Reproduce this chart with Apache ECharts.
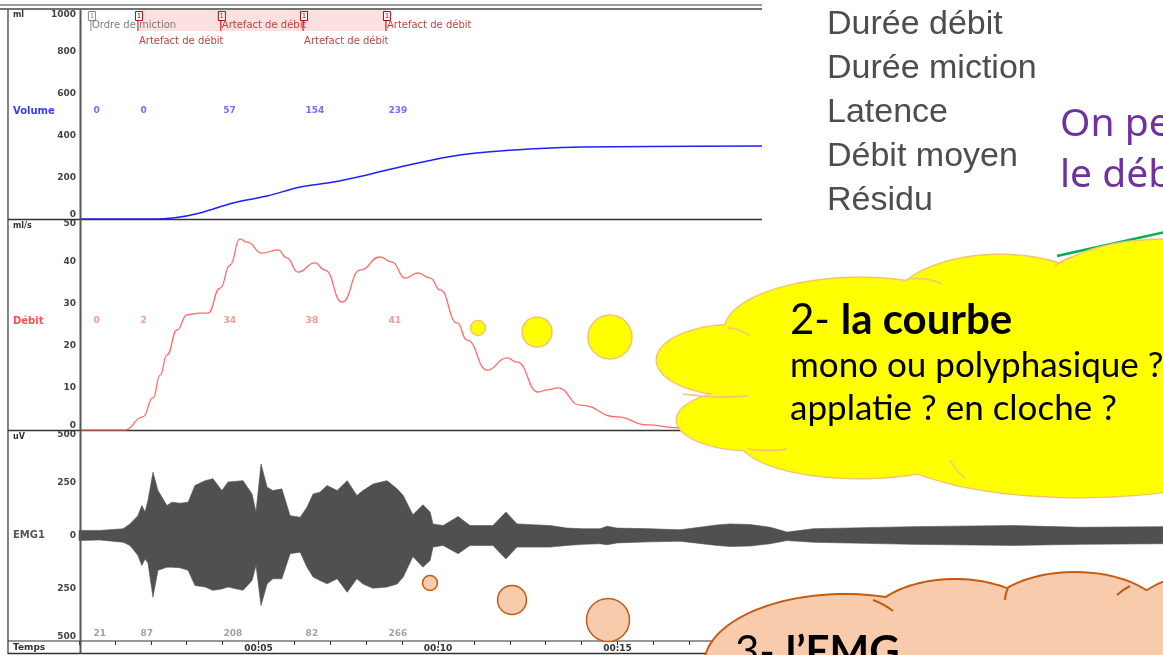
<!DOCTYPE html>
<html>
<head>
<meta charset="utf-8">
<script src="https://cdn.jsdelivr.net/npm/echarts@6/dist/echarts.min.js"></script>
<style>
html, body { margin: 0; padding: 0; background: #fff; }
#chart { width: 1163px; height: 655px; }
</style>
</head>
<body>
<div id="chart"></div>
<script>
// time in seconds
var volumeTime = [0.05, 1.98, 2.67, 3.37, 4.29, 5.24, 6.16, 7.08, 8.02, 8.94, 9.78, 10.61, 11.73, 12.84, 14.04, 15.91, 19.03];
var volumeValues = [0, 0, 6, 29, 77, 110, 153, 177, 211, 249, 280, 306, 325, 337, 344, 347, 349];

var debitTime = [0.05, 1.28, 1.78, 2.06, 2.26, 2.45, 2.73, 3.01, 3.37, 3.59, 3.93, 4.21, 4.48, 4.68, 5.10, 5.54, 5.79, 6.10, 6.57, 6.85, 7.33, 7.83, 8.38, 8.72, 9.08, 9.44, 9.78, 10.06, 10.53, 10.81, 11.37, 11.92, 12.20, 12.79, 13.04, 13.34, 13.96, 14.99, 15.82, 16.66, 17.86, 30.19];
var debitValues = [0, 0, 3.1, 7.6, 13, 17.8, 23.7, 27.3, 27.7, 27.7, 33.6, 39.1, 45.3, 44.5, 41.9, 42.7, 40.8, 37.4, 39.6, 37.9, 30.3, 37.9, 41, 39.8, 36, 37.2, 36, 33.2, 25.4, 21.3, 14.2, 17.1, 16.1, 9, 9.5, 10, 5.9, 3.1, 1.2, 0.5, 0, 0];

var emgTime = [0, 0.58, 1.23, 1.42, 1.64, 1.75, 1.84, 1.92, 2.06, 2.20, 2.45, 2.59, 2.81, 3.04, 3.23, 3.51, 3.73, 3.98, 4.15, 4.57, 4.82, 4.93, 5.07, 5.24, 5.40, 5.65, 5.88, 6.16, 6.35, 6.52, 6.71, 6.91, 7.19, 7.47, 7.74, 7.91, 8.19, 8.58, 8.86, 9.03, 9.30, 9.58, 9.78, 9.86, 10.14, 10.56, 10.89, 11.53, 11.89, 12.20, 12.65, 13.12, 13.59, 14.04, 14.51, 14.71, 14.99, 15.91, 16.74, 17.77, 18.13, 18.69, 19.25, 19.72, 20.45, 23.23, 26.02, 27.88, 30.19];
var emgUpper = [24, 24, 32, 55, 94, 142, 111, 165, 300, 213, 142, 158, 153, 158, 237, 260, 269, 213, 253, 260, 197, 111, 339, 229, 213, 221, 94, 86, 134, 197, 205, 237, 213, 260, 190, 213, 244, 260, 221, 190, 98, 146, 111, 55, 47, 90, 47, 47, 111, 55, 51, 47, 35, 32, 32, 44, 35, 32, 27, 50, 55, 52, 39, 16, 32, 42, 47, 39, 42];
var emgLower = [24, 21, 32, 47, 94, 142, 111, 130, 292, 165, 150, 150, 153, 165, 237, 244, 260, 253, 244, 260, 213, 142, 332, 229, 205, 205, 86, 79, 150, 197, 213, 229, 205, 269, 205, 230, 250, 244, 230, 197, 100, 150, 118, 55, 47, 86, 47, 47, 111, 55, 55, 55, 47, 42, 39, 44, 35, 30, 27, 47, 52, 50, 39, 24, 32, 42, 47, 42, 39];

// event markers and cursor readouts
var markerTime = [0.36, 1.67, 3.98, 6.27, 8.58];
var markerLabel = ['Ordre de miction', 'Artefact de débit', 'Artefact de débit', 'Artefact de débit', 'Artefact de débit'];
var volumeReadout = [0, 0, 57, 154, 239];
var debitReadout = [0, 2, 34, 38, 41];
var emgReadout = [21, 87, 208, 82, 266];

var sideList = ['Durée débit', 'Durée miction', 'Latence', 'Débit moyen', 'Résidu'];

var chart = echarts.init(document.getElementById('chart'));
var lf = 'DejaVu Sans';
var cf = 'Lato';

function pairs(xs, ys) {
	return xs.map(function(x, i){ return [x, ys[i]]; });
}

function yAxis(gridIndex, min, max, interval, fmt) {
	return {
		type: 'value', gridIndex: gridIndex, min: min, max: max, interval: interval,
		splitLine: {show: false}, axisLine: {show: false}, axisTick: {show: false},
		axisLabel: {
			fontFamily: lf, fontSize: 9, fontWeight: 'bold', color: '#444', margin: 3,
			formatter: fmt || function(v){ return String(v); },
			verticalAlignMaxLabel: 'top', verticalAlignMinLabel: 'bottom'
		}
	};
}

function readout(axis, yLevel, values, color) {
	return {
		type: 'scatter', xAxisIndex: axis, yAxisIndex: axis, silent: true,
		symbolSize: 1, itemStyle: {color: 'transparent'},
		data: markerTime.map(function(t, i){ return [t, yLevel, values[i]]; }),
		label: {
			show: true, position: 'right', distance: 1,
			formatter: function(p){ return p.value[2]; },
			fontFamily: lf, fontSize: 9, fontWeight: 'bold', color: color
		}
	};
}

// graphic helpers
var g = [];
function line(x1, y1, x2, y2, color, w, z) {
	g.push({type: 'line', z: z || 1, silent: true, shape: {x1: x1, y1: y1, x2: x2, y2: y2}, style: {stroke: color, lineWidth: w}});
}
function text(x, y, s, font, size, color, weight, z) {
	g.push({type: 'text', z: z || 5, silent: true, style: {
		x: x, y: y, text: s, fontFamily: font, fontSize: size, fill: color,
		fontWeight: weight || 'normal', verticalAlign: 'middle'
	}});
}
function cloud(lobes, fill, stroke, lw, arcs) {
	lobes.forEach(function(l){
		g.push({type: 'ellipse', z: 100, silent: true,
			shape: {cx: l[0], cy: l[1], rx: l[2] + lw, ry: l[3] + lw}, style: {fill: stroke}});
		g.push({type: 'ellipse', z: 101, silent: true,
			shape: {cx: l[0], cy: l[1], rx: l[2], ry: l[3]}, style: {fill: fill}});
	});
	arcs.forEach(function(a){
		g.push({type: 'bezierCurve', z: 102, silent: true,
			shape: {x1: a[0], y1: a[1], x2: a[2], y2: a[3], cpx1: a[4], cpy1: a[5]},
			style: {stroke: stroke, lineWidth: lw, fill: null}});
	});
}
function bubble(cx, cy, r, fill, stroke) {
	g.push({type: 'circle', z: 100, silent: true, shape: {cx: cx, cy: cy, r: r},
		style: {fill: fill, stroke: stroke, lineWidth: 1.5}});
}

// frame
line(0, 5, 762, 5, '#7a7a7a', 1.5);
line(0, 9, 762, 9, '#444', 1.5);
line(8, 10, 8, 654, '#333', 1.2, 10);
line(80.5, 10, 80.5, 654, '#555', 2, 10);
line(8, 219.5, 762, 219.5, '#333', 1.5);
line(8, 430.5, 1163, 430.5, '#333', 1.5);
line(8, 641, 1163, 641, '#333', 1.2);
line(8, 653.5, 1163, 653.5, '#333', 1.5);

// left column labels
text(13, 15, 'ml', lf, 8, '#333', 'bold');
text(13, 111, 'Volume', lf, 10, '#3a3aff', 'bold');
text(13, 226, 'ml/s', lf, 8, '#333', 'bold');
text(13, 321, 'Débit', lf, 10, '#ff5050', 'bold');
text(13, 437, 'uV', lf, 8, '#333', 'bold');
text(13, 535, 'EMG1', lf, 10, '#555', 'bold');
text(13, 648, 'Temps', lf, 9, '#333', 'bold');

// right side text
sideList.forEach(function(s, i){
	text(827, 25 + 44 * i, s, 'Liberation Sans', 34, '#4d4d4d');
});
text(1060, 125, 'On peut', 'Noto Sans', 39, '#7030a0');
text(1060, 176, 'le débit', 'Noto Sans', 39, '#7030a0');
line(1057, 256, 1165, 232, '#00b050', 2.5, 50);

// yellow thought cloud
bubble(478, 328, 7.5, '#ffff00', '#f5c470');
bubble(537, 332, 15, '#ffff00', '#f5c470');
bubble(610, 337, 22, '#ffff00', '#f5c470');
cloud([
	[860, 330, 135, 52], [1000, 310, 110, 55], [1160, 320, 140, 80],
	[735, 360, 78, 35], [750, 420, 73, 30], [860, 440, 120, 38],
	[1080, 440, 200, 57], [940, 385, 220, 85], [1100, 390, 120, 90]
], '#ffff00', '#f5c470', 1.5, [
	[908, 279, 942, 284, 928, 277], [1055, 266, 1072, 257, 1062, 260],
	[728, 328, 750, 336, 738, 328], [683, 394, 748, 396, 715, 399],
	[748, 449, 787, 449, 768, 452], [950, 460, 965, 478, 955, 470]
]);
g.push({type: 'text', z: 103, silent: true, style: {
	x: 790, y: 320, text: '{n|2- }{b|la courbe}', verticalAlign: 'middle',
	rich: {
		n: {fontFamily: cf, fontSize: 42, fill: '#000'},
		b: {fontFamily: cf, fontSize: 42, fontWeight: 'bold', fill: '#000'}
	}
}});
text(790, 366, 'mono ou polyphasique ?', cf, 35, '#000', 'normal', 103);
text(790, 409, 'applatie ? en cloche ?', cf, 35, '#000', 'normal', 103);

// peach cloud
bubble(430, 583, 7.5, '#f8cbad', '#c55a11');
bubble(512, 600, 14.5, '#f8cbad', '#c55a11');
bubble(608, 620, 21.5, '#f8cbad', '#c55a11');
cloud([
	[845, 665, 140, 70], [955, 630, 90, 50], [1075, 620, 90, 47],
	[1205, 635, 85, 60], [980, 690, 300, 70]
], '#f8cbad', '#c55a11', 2, [
	[873, 600, 893, 611, 884, 604], [1005, 600, 1008, 588, 1005, 594],
	[1117, 595, 1130, 586, 1122, 590]
]);
g.push({type: 'text', z: 103, silent: true, style: {
	x: 735, y: 652, text: '{n|3- }{b|l’EMG}', verticalAlign: 'middle',
	rich: {
		n: {fontFamily: cf, fontSize: 42, fill: '#000'},
		b: {fontFamily: cf, fontSize: 42, fontWeight: 'bold', fill: '#000'}
	}
}});

var option = {
	animation: false,
	backgroundColor: '#fff',
	grid: [
		{left: 79, top: 10, width: 683, height: 209, outerBoundsMode: 'none'},
		{left: 79, top: 219, width: 1113, height: 211, outerBoundsMode: 'none'},
		{left: 79, top: 430, width: 1113, height: 211, outerBoundsMode: 'none'}
	],
	xAxis: [
		{type: 'value', gridIndex: 0, min: 0, max: 19.03, show: false},
		{type: 'value', gridIndex: 1, min: 0, max: 31, show: false},
		{
			type: 'value', gridIndex: 2, min: 0, max: 31, interval: 1, position: 'bottom',
			splitLine: {show: false}, axisLine: {show: false, onZero: false},
			axisTick: {show: true, length: 4, lineStyle: {color: '#333'}},
			axisLabel: {
				fontFamily: lf, fontSize: 9, fontWeight: 'bold', color: '#333', margin: 3,
				formatter: function(v){
					if (v > 0 && v % 5 === 0) return '00:' + (v < 10 ? '0' + v : v);
					return '';
				}
			}
		}
	],
	yAxis: [
		yAxis(0, 0, 1000, 200),
		yAxis(1, 0, 50, 10),
		yAxis(2, -500, 500, 250, function(v){ return String(Math.abs(v)); })
	],
	series: [
		{
			type: 'line', xAxisIndex: 0, yAxisIndex: 0, symbol: 'none', smooth: 0.3,
			data: pairs(volumeTime, volumeValues),
			lineStyle: {color: '#2020ff', width: 1.5},
			markArea: {
				silent: true, itemStyle: {color: '#fde0e0'},
				data: [[{xAxis: markerTime[1], yAxis: 1000}, {xAxis: markerTime[4], yAxis: 900}]]
			}
		},
		{
			type: 'custom', xAxisIndex: 0, yAxisIndex: 0, z: 5, silent: true,
			data: markerTime.map(function(t, i){ return [t, i % 2]; }),
			renderItem: function(params, api){
				var i = params.dataIndex;
				var p = api.coord([api.value(0), 1000]);
				var row = api.value(1);
				var col = i === 0 ? '#8a8a8a' : '#c00000';
				var txt = i === 0 ? '#7a7a7a' : '#b5473f';
				return {type: 'group', children: [
					{type: 'rect', shape: {x: p[0] - 3.5, y: p[1] + 1.5, width: 7, height: 9},
						style: {fill: '#fff', stroke: col, lineWidth: 1}},
					{type: 'text', style: {text: '1', x: p[0], y: p[1] + 6.5, fontSize: 7,
						fontFamily: lf, fill: col, align: 'center', verticalAlign: 'middle'}},
					{type: 'line', shape: {x1: p[0] - 1, y1: p[1] + 10.5, x2: p[0] - 1, y2: p[1] + 21},
						style: {stroke: col, lineWidth: 1}},
					{type: 'text', style: {text: markerLabel[i], x: p[0], y: p[1] + 15 + row * 16,
						fontSize: 10, fontFamily: lf, fill: txt, verticalAlign: 'middle'}}
				]};
			}
		},
		readout(0, 517, volumeReadout, '#4a4aff'),
		{
			type: 'line', xAxisIndex: 1, yAxisIndex: 1, symbol: 'none',
			smooth: 0.5, smoothMonotone: 'x',
			data: pairs(debitTime, debitValues),
			lineStyle: {color: '#ff6a6a', width: 1.3}
		},
		readout(1, 25.8, debitReadout, '#ff7b7b'),
		// EMG envelope: one polygon, upper edge forward then lower edge back
		{
			type: 'custom', xAxisIndex: 2, yAxisIndex: 2, silent: true,
			data: emgTime.map(function(t, i){ return [t, emgUpper[i], -emgLower[i]]; }),
			encode: {x: 0, y: [1, 2]},
			renderItem: function(params, api){
				if (params.dataIndex !== 0) return null;
				var pts = [];
				var i;
				for (i = 0; i < emgTime.length; i++) pts.push(api.coord([emgTime[i], emgUpper[i]]));
				for (i = emgTime.length - 1; i >= 0; i--) pts.push(api.coord([emgTime[i], -emgLower[i]]));
				return {type: 'polygon', shape: {points: pts},
					style: {fill: '#505050', stroke: '#505050', lineWidth: 0.6}};
			}
		},
		readout(2, -467, emgReadout, '#8a8a8a')
	],
	graphic: g
};

chart.setOption(option);
</script>
</body>
</html>
